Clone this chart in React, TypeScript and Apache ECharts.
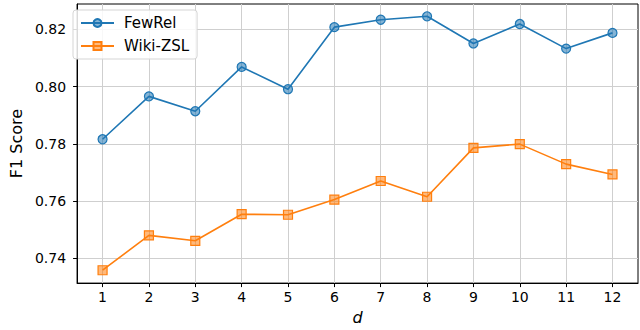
import React, { useEffect, useRef } from "react";
import * as echarts from "echarts";

const dValues = [1, 2, 3, 4, 5, 6, 7, 8, 9, 10, 11, 12];
const fewRel = [0.7816, 0.7966, 0.7914, 0.8069, 0.7991, 0.8208, 0.8234, 0.8246, 0.8151, 0.8219, 0.8133, 0.8188];
const wikiZsl = [0.7358, 0.748, 0.7461, 0.7554, 0.7552, 0.7605, 0.767, 0.7615, 0.7786, 0.7799, 0.7729, 0.7693];
const yTicks = [0.74, 0.76, 0.78, 0.8, 0.82];

const FONT = "DejaVu Sans";

export default function App() {
  const ref = useRef<HTMLDivElement>(null);
  useEffect(() => {
    if (!ref.current) return;
    const chart = echarts.init(ref.current, null, { renderer: "svg" });
    const pairs = (arr: number[]) => dValues.map((d, i) => [d, arr[i]]);
    chart.setOption({
      animation: false,
      backgroundColor: "#ffffff",
      textStyle: { fontFamily: FONT },
      grid: {
        left: 66,
        right: 2,
        top: 4,
        bottom: 42,
        show: true,
        borderColor: "#000",
        borderWidth: 1,
        containLabel: false,
      },
      legend: {
        left: 73,
        top: 10,
        orient: "vertical",
        backgroundColor: "rgba(255,255,255,0.85)",
        borderColor: "#d5d5d5",
        borderWidth: 1,
        borderRadius: 3,
        padding: [4, 8, 4, 7],
        itemGap: 5,
        itemWidth: 33,
        itemHeight: 10,
        textStyle: { fontFamily: FONT, fontSize: 15, color: "#000", padding: [0, 0, 0, 5], lineHeight: 18 },
        data: ["FewRel", "Wiki-ZSL"],
      },
      xAxis: {
        type: "value",
        min: 0.45,
        max: 12.55,
        name: "d",
        nameLocation: "middle",
        nameGap: 23,
        nameTextStyle: { fontFamily: FONT, fontSize: 16, fontStyle: "italic", color: "#000" },
        axisLine: { show: true, lineStyle: { color: "#000", width: 1 } },
        axisTick: { show: true, length: 4, inside: false, lineStyle: { color: "#000" }, customValues: dValues },
        axisLabel: { customValues: dValues, fontFamily: FONT, fontSize: 14, color: "#000", margin: 7 },
        splitLine: { show: true, lineStyle: { color: "#cfcfcf", width: 1 } },
      },
      yAxis: {
        type: "value",
        min: 0.7313,
        max: 0.8289,
        name: "F1 Score",
        nameLocation: "middle",
        nameGap: 50,
        nameTextStyle: { fontFamily: FONT, fontSize: 16, color: "#000" },
        axisLine: { show: true, lineStyle: { color: "#000", width: 1 } },
        axisTick: { show: true, length: 4, lineStyle: { color: "#000" }, customValues: yTicks },
        axisLabel: {
          customValues: yTicks,
          fontFamily: FONT,
          fontSize: 14,
          color: "#000",
          margin: 11,
          formatter: (v: number) => v.toFixed(2),
        },
        splitLine: { show: true, lineStyle: { color: "#cfcfcf", width: 1 } },
      },
      series: [
        {
          name: "FewRel",
          type: "line",
          data: pairs(fewRel),
          symbol: "circle",
          symbolSize: 9,
          lineStyle: { color: "#1f77b4", width: 1.6 },
          itemStyle: { color: "rgba(31,119,180,0.55)", borderColor: "#1f77b4", borderWidth: 1.2 },
          z: 3,
        },
        {
          name: "Wiki-ZSL",
          type: "line",
          data: pairs(wikiZsl),
          symbol: "rect",
          symbolSize: 9,
          lineStyle: { color: "#ff7f0e", width: 1.6 },
          itemStyle: { color: "rgba(255,127,14,0.55)", borderColor: "#ff7f0e", borderWidth: 1.2 },
          z: 3,
        },
      ],
    });
    return () => chart.dispose();
  }, []);
  return (
    <div
      ref={ref}
      style={{ position: "fixed", left: 0, top: 0, width: 640, height: 330, background: "#fff" }}
    />
  );
}
